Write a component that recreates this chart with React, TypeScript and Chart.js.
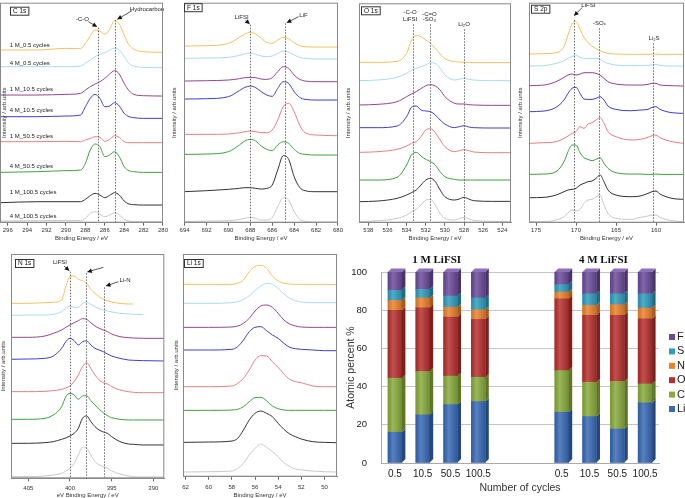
import React, { useEffect, useRef } from "react";
import { Chart, registerables } from "chart.js";
Chart.register(...registerables);

const FONT = '"Liberation Sans", Arial, sans-serif';
const SERIF = '"Liberation Serif", "Times New Roman", serif';

// ---------- XPS spectra ----------
const TRACE_LABELS = [
  "1 M_0.5 cycles", "4 M_0.5 cycles", "1 M_10.5 cycles", "4 M_10.5 cycles",
  "1 M_50.5 cycles", "4 M_50.5 cycles", "1 M_100.5 cycles", "4 M_100.5 cycles",
];
const TRACE_COLORS = ["#f3c162", "#a9dcf0", "#93468f", "#3d3fd0", "#ec7f7f", "#3fa13f", "#333333", "#c9c9c9"];

// C 1s
const C1S_BE = [296.8, 293, 290, 288.5, 288, 287.5, 287, 286.5, 286, 285.5, 285, 284.5, 284, 283.5, 283, 282, 280];
const C1S_INT: (number | null)[][] = [
  [518, 518, 523, 522, 538, 560, 578, 575, 565, 580, 606, 596, 563, 533, 520, 513, 511],
  [468, 468, 468, 470, 478, 488, 498, 506, 510, 518, 523, 518, 498, 478, 470, 466, 465],
  [383, 383, 385, 388, 398, 408, 416, 423, 433, 446, 456, 446, 418, 396, 385, 381, 380],
  [318, 318, 320, 323, 348, 373, 385, 373, 348, 350, 360, 350, 328, 318, 315, 313, 313],
  [243, 243, 244, 243, 248, 253, 258, 256, 244, 250, 261, 256, 243, 240, 240, 240, 240],
  [151, 153, 156, 158, 178, 218, 236, 228, 198, 203, 213, 198, 168, 156, 153, 151, 151],
  [60, 63, 63, 63, 70, 81, 88, 83, 75, 82, 90, 83, 65, 56, 54, 53, 53],
  [5, 6, 7, 6, 13, 28, 33, 25, 18, 23, 30, 23, 10, 5, 3, 3, 3],
];

// F 1s
const F1S_BE = [694.05, 692, 690, 689, 688.5, 688, 687.5, 687, 686.5, 686, 685.5, 685, 684.5, 684, 683.5, 683, 682, 680];
const F1S_INT: (number | null)[][] = [
  [530, 531, 538, 556, 566, 571, 566, 553, 541, 538, 548, 556, 552, 540, 531, 528, 527, 527],
  [493, 494, 496, 502, 506, 508, 505, 500, 498, 500, 508, 515, 512, 503, 496, 493, 491, 491],
  [425, 426, 428, 432, 435, 436, 435, 431, 430, 435, 453, 468, 463, 443, 430, 425, 423, 423],
  [371, 372, 378, 396, 406, 410, 405, 393, 383, 379, 403, 423, 418, 393, 376, 370, 368, 368],
  [265, 265, 266, 270, 273, 275, 273, 270, 270, 278, 308, 348, 358, 333, 293, 270, 263, 261],
  [205, 206, 213, 233, 245, 250, 245, 230, 220, 216, 233, 243, 238, 220, 208, 205, 203, 203],
  [93, 96, 100, 103, 105, 105, 103, 101, 103, 113, 158, 201, 190, 138, 106, 96, 93, 93],
  [3, 5, 6, 10, 13, 16, 13, 8, 8, 16, 48, 75, 68, 33, 10, 4, 2, 2],
];

// O 1s
const O1S_BE = [538.98, 537, 535, 534, 533.5, 533, 532.5, 532, 531.5, 531, 530.5, 530, 529, 528.5, 528, 527.5, 527, 525, 523.09];
const O1S_INT: (number | null)[][] = [
  [481, 481, 484, 508, 546, 562, 558, 548, 538, 523, 506, 492, 483, 482, 481, 481, 480, 480, 480],
  [426, 428, 436, 448, 458, 463, 468, 473, 480, 478, 463, 443, 428, 430, 433, 430, 428, 426, 426],
  [353, 355, 363, 378, 386, 393, 402, 411, 414, 410, 398, 378, 358, 356, 356, 354, 353, 352, 352],
  [285, 285, 290, 318, 346, 350, 338, 335, 333, 323, 308, 296, 285, 288, 291, 287, 285, 284, 284],
  [211, 213, 220, 230, 238, 243, 258, 278, 282, 270, 248, 228, 213, 216, 219, 216, 212, 210, 210],
  [128, 128, 136, 173, 203, 211, 200, 190, 183, 173, 153, 138, 130, 128, 128, 128, 128, 128, 128],
  [63, 65, 73, 83, 90, 98, 113, 128, 133, 123, 98, 78, 68, 71, 76, 71, 66, 64, 64],
  [3, 6, 13, 23, 33, 40, 53, 68, 70, 53, 28, 13, 8, 12, 16, 12, 7, 4, 3],
];

// S 2p
const S2P_BE = [175.875, 174, 172.5, 171.5, 171, 170.5, 170, 169.5, 169, 168.5, 168, 167.5, 167, 166.5, 166, 165, 163, 162, 161, 160.5, 160, 159.5, 158, 156.5];
const S2P_INT: (number | null)[][] = [
  [506, 507, 510, 528, 563, 596, 603, 580, 556, 540, 530, 522, 516, 511, 508, 506, 505, 505, 505, 506, 506, 505, 505, 505],
  [470, 471, 478, 486, 493, 498, 503, 496, 493, 492, 493, 493, 490, 483, 478, 473, 471, 471, 472, 473, 475, 472, 470, 470],
  [411, 413, 423, 436, 443, 446, 443, 446, 450, 450, 450, 448, 443, 433, 423, 416, 413, 413, 415, 418, 418, 413, 411, 410],
  [333, 335, 346, 368, 388, 403, 406, 388, 371, 370, 370, 373, 378, 368, 350, 340, 336, 338, 340, 346, 348, 340, 330, 328],
  [238, 240, 243, 253, 260, 268, 273, 288, 283, 296, 300, 308, 316, 298, 273, 258, 248, 250, 256, 261, 263, 255, 243, 238],
  [145, 146, 153, 183, 213, 233, 233, 210, 195, 190, 186, 190, 195, 178, 163, 150, 146, 146, 145, 145, 146, 145, 145, 145],
  [75, 76, 83, 93, 98, 100, 103, 113, 118, 123, 125, 133, 143, 123, 98, 83, 78, 80, 88, 93, 95, 86, 73, 70],
  [3, 3, 8, 18, 30, 38, 36, 40, 58, 68, 70, 78, 83, 53, 28, 13, 10, 16, 20, 23, 23, 16, 6, 3],
];

// N 1s
const N1S_BE = [407.08, 405, 403, 402, 401, 400.5, 400, 399.5, 399, 398.5, 398, 397.5, 397, 396.5, 396, 395.5, 395, 394, 393, 392.4, 391.2, 388.68];
const N1S_INT: (number | null)[][] = [
  [525, 525, 527, 528, 535, 575, 605, 607, 597, 593, 585, 567, 555, 545, 537, 533, 529, 525, 523, 523, null, null],
  [489, 490, 490, 492, 500, 510, 517, 513, 513, 525, 528, 522, 515, 509, 505, 502, 499, 495, 493, 492, 491, null],
  [423, 423, 427, 435, 445, 453, 460, 467, 473, 479, 477, 467, 457, 450, 445, 440, 433, 425, 422, 421, 420, 420],
  [357, 358, 360, 367, 390, 410, 420, 413, 400, 410, 412, 400, 390, 385, 380, 373, 367, 360, 355, 354, 353, 352],
  [260, 260, 261, 263, 267, 271, 277, 290, 310, 335, 347, 330, 310, 295, 287, 283, 275, 265, 260, 258, 257, 257],
  [177, 177, 180, 190, 215, 245, 255, 250, 237, 247, 248, 233, 220, 207, 197, 188, 182, 177, 175, 175, 175, 175],
  [105, 105, 107, 110, 117, 121, 127, 135, 150, 180, 187, 170, 155, 145, 139, 135, 125, 110, 103, 102, 100, 100],
  [5, 5, 7, 10, 15, 22, 30, 45, 70, 93, 90, 70, 50, 40, 35, 30, 22, 13, 7, 5, 4, 4],
];

// Li 1s
const LI1S_BE = [62.22, 60, 58, 57.5, 57, 56.5, 56, 55.5, 55, 54.5, 54, 53.5, 53, 52.5, 52, 51, 50, 48.92];
const LI1S_INT: (number | null)[][] = [
  [577, 577, 577, 580, 590, 615, 630, 634, 625, 602, 587, 580, 578, 577, 577, 577, 577, 576],
  [520, 520, 522, 525, 532, 543, 558, 572, 580, 577, 565, 548, 535, 528, 524, 522, 522, 522],
  [448, 448, 449, 452, 460, 475, 497, 512, 515, 508, 490, 470, 458, 452, 449, 448, 448, 448],
  [380, 380, 382, 390, 410, 435, 448, 450, 438, 425, 415, 400, 388, 384, 382, 380, 378, 378],
  [270, 270, 272, 280, 295, 320, 350, 363, 362, 345, 328, 308, 292, 285, 282, 272, 270, 270],
  [199, 199, 200, 202, 210, 225, 237, 238, 228, 212, 204, 200, 199, 199, 199, 199, 199, 199],
  [103, 104, 107, 115, 140, 170, 190, 197, 190, 180, 160, 142, 128, 120, 113, 105, 103, 102],
  [14, 15, 17, 25, 40, 65, 85, 98, 88, 75, 60, 42, 30, 23, 20, 17, 15, 14],
];

// ---------- Atomic percent bar chart ----------
const CYCLES = ["0.5", "10.5", "50.5", "100.5", "", "", "0.5", "10.5", "50.5", "100.5"];
const LI_PCT = [16.1, 25.2, 30.6, 32.2, null, null, 26.6, 24.3, 17.8, 31.5];
const C_PCT = [28.3, 22.7, 14.9, 12.7, null, null, 21.8, 18.0, 24.9, 9.9];
const O_PCT = [35.5, 33.4, 30.9, 30.3, null, null, 37.6, 35.0, 34.6, 34.1];
const N_PCT = [5.2, 5.1, 5.2, 5.0, null, null, 3.5, 5.2, 5.6, 5.6];
const S_PCT = [5.3, 4.5, 5.8, 6.2, null, null, 3.9, 6.1, 5.7, 7.5];
const F_PCT = [9.6, 9.1, 12.6, 13.6, null, null, 6.6, 11.4, 11.4, 11.4];
const ELEMENTS = ["Li", "C", "O", "N", "S", "F"];
const GROUP_TITLES = ["1 M LiFSI", "4 M LiFSI"];

const EL_COLORS = ["#3769b4", "#88aa3c", "#b5302d", "#ea812b", "#2f9cbd", "#6a4b99"];
const EL_SIDE = ["#24487e", "#5d7727", "#7c1f1d", "#a8591c", "#1f6b82", "#48336a"];
const EL_TOP = ["#5c8bd0", "#a8c75e", "#d05450", "#f5a35a", "#5cbad6", "#8c70b8"];

type Panel = {
  title: string; xTitle: string; be: number[]; rows: (number | null)[][];
  xMin: number; xMax: number; yMax: number; step: number;
  frame: { l: number; t: number; r: number; b: number };
  padL: number; padR: number; canvasTop: number; canvasBottom: number; tickPad: number;
  yTitleX: number; boxDx: number; boxDy: number;
  dotted: { x: number; top: number }[];
  arrows: { from: [number, number]; to: [number, number] }[];
  texts: { x: number; y: number; text: string; align?: CanvasTextAlign }[];
};

const C1S_LABEL_Y = [533, 478, 400, 338, 260, 168, 90, 20];

const PANELS: Panel[] = [
  {
    title: "C 1s", xTitle: "Binding Energy / eV", be: C1S_BE, rows: C1S_INT,
    xMin: 280, xMax: 296.8, yMax: 660, step: 2,
    frame: { l: 0, t: 2.7, r: 163, b: 222.7 }, padL: 0, padR: 6, canvasTop: 0, canvasBottom: 242, tickPad: 1,
    yTitleX: 4, boxDx: 10, boxDy: 4,
    dotted: [{ x: 286.75, top: 585 }, { x: 284.9, top: 608 }],
    arrows: [{ from: [287.7, 603], to: [286.8, 588] }, { from: [283.2, 636], to: [284.7, 610] }],
    texts: [
      ...TRACE_LABELS.map((t, i) => ({ x: 295.8, y: C1S_LABEL_Y[i], text: t, align: "left" as CanvasTextAlign })),
      { x: 288.3, y: 610, text: "-C-O" },
      { x: 281.65, y: 640, text: "Hydrocarbon" },
    ],
  },
  {
    title: "F 1s", xTitle: "Binding Energy / eV", be: F1S_BE, rows: F1S_INT,
    xMin: 680, xMax: 694.05, yMax: 660, step: 2,
    frame: { l: 184, t: 2.7, r: 338, b: 222.7 }, padL: 16, padR: 6, canvasTop: 0, canvasBottom: 242, tickPad: 1,
    yTitleX: 174, boxDx: 0, boxDy: 0.5,
    dotted: [{ x: 688.0, top: 594 }, { x: 684.88, top: 598 }],
    arrows: [{ from: [688.45, 608], to: [688.06, 596] }, { from: [683.6, 618], to: [684.67, 600] }],
    texts: [{ x: 688.8, y: 616, text: "LiFSI" }, { x: 683.15, y: 623, text: "LiF" }],
  },
  {
    title: "O 1s", xTitle: "Binding Energy / eV", be: O1S_BE, rows: O1S_INT,
    xMin: 523.09, xMax: 538.98, yMax: 658, step: 2,
    frame: { l: 359, t: 3.3, r: 511, b: 222.7 }, padL: 17, padR: 4, canvasTop: 0, canvasBottom: 242, tickPad: 1,
    yTitleX: 348, boxDx: 2, boxDy: 3,
    dotted: [{ x: 533.3, top: 595 }, { x: 531.55, top: 595 }, { x: 527.97, top: 580 }],
    arrows: [],
    texts: [
      { x: 533.64, y: 630, text: "-C-O" }, { x: 533.64, y: 611, text: "LiFSI" },
      { x: 531.62, y: 626, text: "-C=O" }, { x: 531.62, y: 609, text: "-SO₃" },
      { x: 528.0, y: 596, text: "Li₂O" },
    ],
  },
  {
    title: "S 2p", xTitle: "Binding Energy / eV", be: S2P_BE, rows: S2P_INT,
    xMin: 156.5, xMax: 175.875, yMax: 660, step: 5,
    frame: { l: 529, t: 2.7, r: 684, b: 222.7 }, padL: 15, padR: 1, canvasTop: 0, canvasBottom: 242, tickPad: 1,
    yTitleX: 520, boxDx: 2, boxDy: 2,
    dotted: [{ x: 170.3, top: 608 }, { x: 167.1, top: 583 }, { x: 160.4, top: 538 }],
    arrows: [{ from: [169.2, 646], to: [170.25, 621] }],
    texts: [
      { x: 168.46, y: 652, text: "LiFSI" }, { x: 167.08, y: 598, text: "-SOₓ" },
      { x: 160.25, y: 553, text: "Li₂S" },
    ],
  },
  {
    title: "N 1s", xTitle: "eV Binding Energy / eV", be: N1S_BE, rows: N1S_INT,
    xMin: 388.68, xMax: 407.08, yMax: 673, step: 5,
    frame: { l: 11, t: 254, r: 164.3, b: 478.3 }, padL: 11, padR: 6, canvasTop: 250, canvasBottom: 499, tickPad: 3.5,
    yTitleX: 3.5, boxDx: 4, boxDy: 5,
    dotted: [{ x: 400.0, top: 620 }, { x: 398.1, top: 615 }, { x: 395.9, top: 573 }],
    arrows: [
      { from: [400.72, 637], to: [400.08, 623] },
      { from: [396.0, 633], to: [397.92, 619] },
      { from: [394.2, 590], to: [395.68, 577] },
    ],
    texts: [{ x: 401.2, y: 647, text: "LiFSI" }, { x: 393.4, y: 593, text: "Li-N" }],
  },
  {
    title: "Li 1s", xTitle: "Binding Energy / eV", be: LI1S_BE, rows: LI1S_INT,
    xMin: 48.92, xMax: 62.22, yMax: 668, step: 2,
    frame: { l: 183, t: 254, r: 337, b: 476.7 }, padL: 13, padR: 6, canvasTop: 250, canvasBottom: 499, tickPad: 4,
    yTitleX: 176, boxDx: 1, boxDy: 5,
    dotted: [], arrows: [], texts: [],
  },
];

function makeDecor(p: Panel, cLeft: number) {
  return {
    id: "decor",
    afterDatasetsDraw(chart: any) {
      const ctx: CanvasRenderingContext2D = chart.ctx;
      const xs = chart.scales.x;
      const ys = chart.scales.y;
      const a = chart.chartArea;
      ctx.save();
      // dotted reference lines
      ctx.strokeStyle = "#444";
      ctx.lineWidth = 0.8;
      ctx.setLineDash([1.5, 1.5]);
      for (const d of p.dotted) {
        const x = Math.round(xs.getPixelForValue(d.x)) + 0.5;
        ctx.beginPath();
        ctx.moveTo(x, ys.getPixelForValue(d.top));
        ctx.lineTo(x, a.bottom);
        ctx.stroke();
      }
      ctx.setLineDash([]);
      // arrows
      ctx.strokeStyle = "#111";
      ctx.fillStyle = "#111";
      ctx.lineWidth = 0.7;
      for (const ar of p.arrows) {
        const x1 = xs.getPixelForValue(ar.from[0]);
        const y1 = ys.getPixelForValue(ar.from[1]);
        const x2 = xs.getPixelForValue(ar.to[0]);
        const y2 = ys.getPixelForValue(ar.to[1]);
        ctx.beginPath();
        ctx.moveTo(x1, y1);
        ctx.lineTo(x2, y2);
        ctx.stroke();
        const ang = Math.atan2(y2 - y1, x2 - x1);
        const hl = 4.5, hw = 2.3;
        ctx.beginPath();
        ctx.moveTo(x2, y2);
        ctx.lineTo(x2 - hl * Math.cos(ang) + hw * Math.sin(ang), y2 - hl * Math.sin(ang) - hw * Math.cos(ang));
        ctx.lineTo(x2 - hl * Math.cos(ang) - hw * Math.sin(ang), y2 - hl * Math.sin(ang) + hw * Math.cos(ang));
        ctx.closePath();
        ctx.fill();
      }
      // texts
      ctx.fillStyle = "#222";
      ctx.font = `6px ${FONT}`;
      ctx.textBaseline = "middle";
      for (const t of p.texts) {
        ctx.textAlign = t.align || "center";
        ctx.fillText(t.text, xs.getPixelForValue(t.x), ys.getPixelForValue(t.y));
      }
      // frame
      ctx.strokeStyle = "#8a8a8a";
      ctx.lineWidth = 1;
      ctx.strokeRect(a.left + 0.5, a.top + 0.5, a.right - a.left - 1, a.bottom - a.top - 1);
      // title box
      ctx.font = `6.5px ${FONT}`;
      const tw = ctx.measureText(p.title).width;
      const bx = a.left + p.boxDx, by = a.top + p.boxDy;
      ctx.fillStyle = "#fff";
      ctx.fillRect(bx + 0.5, by + 0.5, tw + 5, 8);
      ctx.strokeStyle = "#333";
      ctx.strokeRect(bx + 0.5, by + 0.5, tw + 5, 8);
      ctx.fillStyle = "#111";
      ctx.textAlign = "left";
      ctx.fillText(p.title, bx + 3, by + 4.7);
      // y title
      ctx.font = `6px ${FONT}`;
      ctx.fillStyle = "#333";
      ctx.translate(p.yTitleX - cLeft, (a.top + a.bottom) / 2);
      ctx.rotate(-Math.PI / 2);
      ctx.textAlign = "center";
      ctx.fillText("Intensity / arb.units", 0, 0);
      ctx.restore();
    },
  };
}

function SpectrumPanel({ p }: { p: Panel }) {
  const ref = useRef<HTMLCanvasElement>(null);
  const cTop = p.canvasTop;
  const cLeft = p.frame.l - p.padL;
  const W = Math.round(p.frame.r - p.frame.l + p.padL + p.padR);
  const H = p.canvasBottom - cTop;
  useEffect(() => {
    const padT = p.frame.t - cTop;
    const padR = W - p.padL - (p.frame.r - p.frame.l);
    const axisH = p.canvasBottom - p.frame.b;
    const datasets = p.rows.map((row, i) => ({
      label: TRACE_LABELS[i],
      data: p.be.map((x, j) => ({ x, y: row[j] })),
      borderColor: TRACE_COLORS[i],
      borderWidth: 1,
      pointRadius: 0,
      fill: false,
      cubicInterpolationMode: "monotone",
      spanGaps: false,
    }));
    const chart = new Chart(ref.current as HTMLCanvasElement, {
      type: "line",
      data: { datasets } as any,
      options: {
        responsive: false,
        animation: false,
        devicePixelRatio: 1,
        layout: { padding: { left: p.padL, right: padR, top: padT, bottom: 0 } },
        plugins: { legend: { display: false }, tooltip: { enabled: false } },
        scales: {
          x: {
            type: "linear",
            reverse: true,
            min: p.xMin,
            max: p.xMax,
            ticks: {
              stepSize: p.step,
              includeBounds: false,
              autoSkip: false,
              maxRotation: 0,
              padding: p.tickPad,
              color: "#333",
              font: { size: 6, family: FONT },
            },
            grid: { display: true, drawOnChartArea: false, drawTicks: true, tickLength: 3, color: "#666" },
            border: { display: true, color: "#8a8a8a" },
            title: {
              display: true,
              text: p.xTitle,
              color: "#333",
              font: { size: 6, family: FONT },
              padding: { top: 0, bottom: 0 },
            },
            afterFit: (s: any) => { s.height = axisH; },
          },
          y: { display: false, min: 0, max: p.yMax },
        },
      } as any,
      plugins: [makeDecor(p, cLeft)],
    });
    return () => chart.destroy();
  }, []);
  return (
    <canvas
      ref={ref}
      width={W}
      height={H}
      style={{ position: "absolute", left: cLeft, top: cTop, width: W, height: H }}
    />
  );
}

const bar3d = {
  id: "bar3d",
  afterDatasetsDraw(chart: any) {
    const ctx: CanvasRenderingContext2D = chart.ctx;
    const d = 3.5;
    const n = chart.data.datasets.length;
    ctx.save();
    chart.data.datasets.forEach((ds: any, di: number) => {
      const meta = chart.getDatasetMeta(di);
      meta.data.forEach((el: any, i: number) => {
        if (ds.data[i] == null) return;
        const { x, y, base, width } = el.getProps(["x", "y", "base", "width"], true);
        const l = x - width / 2, r = x + width / 2;
        const g = ctx.createLinearGradient(l, 0, r, 0);
        g.addColorStop(0, "rgba(0,0,0,0.10)");
        g.addColorStop(0.35, "rgba(255,255,255,0.16)");
        g.addColorStop(1, "rgba(0,0,0,0.16)");
        ctx.fillStyle = g;
        ctx.fillRect(l, y, width, base - y);
        ctx.fillStyle = EL_SIDE[di];
        ctx.beginPath();
        ctx.moveTo(r, y);
        ctx.lineTo(r + d, y - d);
        ctx.lineTo(r + d, base - d);
        ctx.lineTo(r, base);
        ctx.closePath();
        ctx.fill();
        if (di === n - 1) {
          ctx.fillStyle = EL_TOP[di];
          ctx.beginPath();
          ctx.moveTo(l, y);
          ctx.lineTo(l + d, y - d);
          ctx.lineTo(r + d, y - d);
          ctx.lineTo(r, y);
          ctx.closePath();
          ctx.fill();
        }
      });
    });
    ctx.restore();
  },
  afterDraw(chart: any) {
    const ctx: CanvasRenderingContext2D = chart.ctx;
    const a = chart.chartArea;
    const xs = chart.scales.x;
    ctx.save();
    // group titles
    ctx.font = `bold 11px ${SERIF}`;
    ctx.fillStyle = "#111";
    ctx.textAlign = "center";
    ctx.textBaseline = "middle";
    const g1 = (xs.getPixelForValue(0) + xs.getPixelForValue(3)) / 2;
    const g2 = (xs.getPixelForValue(6) + xs.getPixelForValue(9)) / 2;
    ctx.fillText(GROUP_TITLES[0], g1, 10);
    ctx.fillText(GROUP_TITLES[1], g2, 10);
    // legend (top-down reverse of stack order)
    ctx.font = `11px ${FONT}`;
    ctx.textAlign = "left";
    for (let k = 0; k < ELEMENTS.length; k++) {
      const di = ELEMENTS.length - 1 - k;
      const yy = a.top + 65 + k * 14.4;
      ctx.fillStyle = EL_COLORS[di];
      ctx.fillRect(a.right + 10, yy - 3, 6, 6);
      ctx.fillStyle = "#222";
      ctx.fillText(ELEMENTS[di], a.right + 18, yy);
    }
    ctx.restore();
  },
};

function BarPanel() {
  const ref = useRef<HTMLCanvasElement>(null);
  useEffect(() => {
    const series = [LI_PCT, C_PCT, O_PCT, N_PCT, S_PCT, F_PCT];
    const chart = new Chart(ref.current as HTMLCanvasElement, {
      type: "bar",
      data: {
        labels: CYCLES,
        datasets: series.map((s, i) => ({
          label: ELEMENTS[i],
          data: s,
          backgroundColor: EL_COLORS[i],
          borderWidth: 0,
          barThickness: 14,
        })),
      } as any,
      options: {
        responsive: false,
        animation: false,
        devicePixelRatio: 1,
        layout: { padding: { left: 0, right: 26, top: 22, bottom: 0 } },
        plugins: { legend: { display: false }, tooltip: { enabled: false } },
        scales: {
          x: {
            stacked: true,
            grid: { display: false, drawTicks: false },
            border: { display: true, color: "#aaa" },
            ticks: { font: { size: 10, family: FONT }, color: "#222", padding: 5, autoSkip: false, maxRotation: 0 },
            title: {
              display: true, text: "Number of cycles", color: "#333",
              font: { size: 10.5, family: FONT }, padding: { top: 0, bottom: 4 },
            },
            afterFit: (s: any) => { s.height = 35; },
          },
          y: {
            stacked: true,
            min: 0,
            max: 100,
            ticks: { stepSize: 20, font: { size: 9.5, family: FONT }, color: "#222", padding: 14 },
            grid: { color: "#c4c4c4", drawTicks: false },
            border: { display: true, color: "#aaa" },
            title: {
              display: true, text: "Atomic percent %", color: "#333",
              font: { size: 10.5, family: FONT }, padding: { top: 5, bottom: 0 },
            },
            afterFit: (s: any) => { s.width = 41; },
          },
        },
      } as any,
      plugins: [bar3d],
    });
    return () => chart.destroy();
  }, []);
  return (
    <canvas
      ref={ref}
      width={345}
      height={248}
      style={{ position: "absolute", left: 340, top: 250, width: 345, height: 248 }}
    />
  );
}

export default function App() {
  return (
    <div
      style={{
        position: "absolute", left: 0, top: 0, width: 685, height: 498,
        overflow: "hidden", background: "#fff",
      }}
    >
      {PANELS.map((p) => (
        <SpectrumPanel key={p.title} p={p} />
      ))}
      <BarPanel />
    </div>
  );
}
